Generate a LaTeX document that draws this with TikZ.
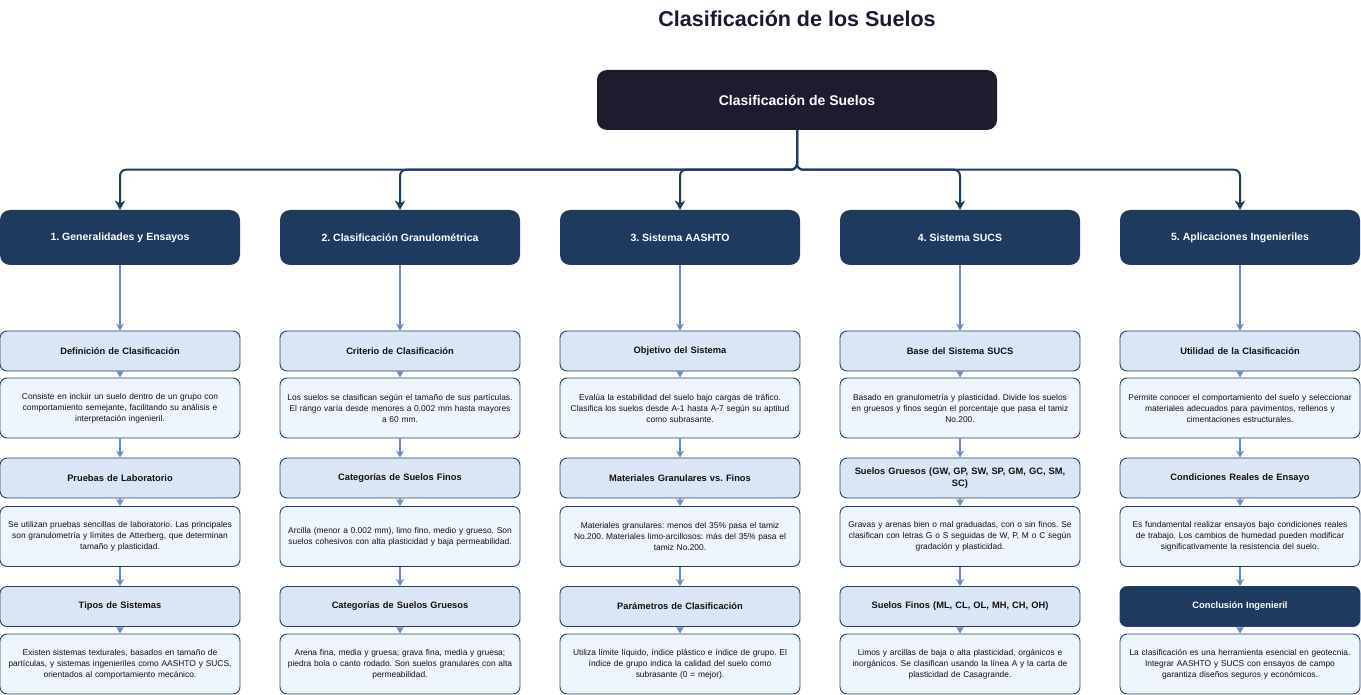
\documentclass[tikz,border=0pt]{standalone}
\usepackage{fontspec}
\setmainfont{Liberation Sans}
\usetikzlibrary{arrows.meta}
\definecolor{titlec}{HTML}{1A1A2E}
\definecolor{rootc}{HTML}{1C1C2E}
\definecolor{secc}{HTML}{1F3A5F}
\definecolor{subc}{HTML}{DAE6F5}
\definecolor{descc}{HTML}{EFF5FD}
\definecolor{bordc}{HTML}{24406A}
\definecolor{arrc}{HTML}{6C8EBF}
\definecolor{txtc}{HTML}{111111}
\frenchspacing
\begin{document}
\frenchspacing
\begin{tikzpicture}[x=1pt,y=-1pt,
  rootbox/.style={rectangle, rounded corners=10pt, fill=rootc, draw=none, minimum width=400pt, minimum height=60pt, text=white, font=\fontsize{14}{17}\selectfont\bfseries, inner sep=0pt},
  secbox/.style={rectangle, rounded corners=10pt, fill=secc, draw=none, minimum width=240pt, minimum height=55pt, text=white, font=\fontsize{10.5}{13}\selectfont\bfseries, inner sep=0pt, align=center},
  subbox/.style={rectangle, rounded corners=7pt, fill=subc, draw=bordc, line width=0.9pt, minimum width=240pt, minimum height=40pt, text width=238pt, inner sep=1pt, align=center, font=\fontsize{9.3}{12}\selectfont\bfseries, text=txtc},
  descbox/.style={subbox, fill=descc, minimum height=60pt, font=\fontsize{8.4}{11}\selectfont},
  conclbox/.style={subbox, fill=secc, text=white},
  busarr/.style={draw=secc, line width=2pt, rounded corners=6pt, -{Stealth[length=9pt,width=10pt,inset=2.5pt]}},
  lightarr/.style={draw=arrc, line width=1.5pt, -{Stealth[length=7pt,width=8pt,inset=2pt]}}
]
\useasboundingbox (0,0) rectangle (1361,695);
\fill[white] (0,0) rectangle (1361,695);

\node[text=titlec, font=\fontsize{21.5}{24}\selectfont\bfseries] (title) at (797,19) {Clasificación de los Suelos};
\node[rootbox] (root) at (797,100) {Clasificación de Suelos};

% section headers
\node[secbox] (s1) at (120,237.5) {1. Generalidades y Ensayos};
\node[secbox] (s2) at (400,237.5) {2. Clasificación Granulométrica};
\node[secbox] (s3) at (680,237.5) {3. Sistema AASHTO};
\node[secbox] (s4) at (960,237.5) {4. Sistema SUCS};
\node[secbox] (s5) at (1240,237.5) {5. Aplicaciones Ingenieriles};

% column 1
\node[subbox] (h11) at (120,351) {Definición de Clasificación};
\node[descbox] (d11) at (120,408) {Consiste en incluir un suelo dentro de un grupo con\\comportamiento semejante, facilitando su análisis e\\interpretación ingenieril.};
\node[subbox] (h12) at (120,478) {Pruebas de Laboratorio};
\node[descbox] (d12) at (120,536.5) {Se utilizan pruebas sencillas de laboratorio. Las principales\\son granulometría y límites de Atterberg, que determinan\\tamaño y plasticidad.};
\node[subbox] (h13) at (120,606.5) {Tipos de Sistemas};
\node[descbox] (d13) at (120,664) {Existen sistemas texturales, basados en tamaño de\\partículas, y sistemas ingenieriles como AASHTO y SUCS,\\orientados al comportamiento mecánico.};

% column 2
\node[subbox] (h21) at (400,351) {Criterio de Clasificación};
\node[descbox] (d21) at (400,408) {Los suelos se clasifican según el tamaño de sus partículas.\\El rango varía desde menores a 0.002 mm hasta mayores\\a 60 mm.};
\node[subbox] (h22) at (400,478) {Categorías de Suelos Finos};
\node[descbox] (d22) at (400,536.5) {Arcilla (menor a 0.002 mm), limo fino, medio y grueso. Son\\suelos cohesivos con alta plasticidad y baja permeabilidad.};
\node[subbox] (h23) at (400,606.5) {Categorías de Suelos Gruesos};
\node[descbox] (d23) at (400,664) {Arena fina, media y gruesa; grava fina, media y gruesa;\\piedra bola o canto rodado. Son suelos granulares con alta\\permeabilidad.};

% column 3
\node[subbox] (h31) at (680,351) {Objetivo del Sistema};
\node[descbox] (d31) at (680,408) {Evalúa la estabilidad del suelo bajo cargas de tráfico.\\Clasifica los suelos desde A-1 hasta A-7 según su aptitud\\como subrasante.};
\node[subbox] (h32) at (680,478) {Materiales Granulares vs. Finos};
\node[descbox] (d32) at (680,536.5) {Materiales granulares: menos del 35\% pasa el tamiz\\No.200. Materiales limo-arcillosos: más del 35\% pasa el\\tamiz No.200.};
\node[subbox] (h33) at (680,606.5) {Parámetros de Clasificación};
\node[descbox] (d33) at (680,664) {Utiliza límite líquido, índice plástico e índice de grupo. El\\índice de grupo indica la calidad del suelo como\\subrasante (0 = mejor).};

% column 4
\node[subbox] (h41) at (960,351) {Base del Sistema SUCS};
\node[descbox] (d41) at (960,408) {Basado en granulometría y plasticidad. Divide los suelos\\en gruesos y finos según el porcentaje que pasa el tamiz\\No.200.};
\node[subbox] (h42) at (960,478) {Suelos Gruesos (GW, GP, SW, SP, GM, GC, SM,\\SC)};
\node[descbox] (d42) at (960,536.5) {Gravas y arenas bien o mal graduadas, con o sin finos. Se\\clasifican con letras G o S seguidas de W, P, M o C según\\gradación y plasticidad.};
\node[subbox] (h43) at (960,606.5) {Suelos Finos (ML, CL, OL, MH, CH, OH)};
\node[descbox] (d43) at (960,664) {Limos y arcillas de baja o alta plasticidad, orgánicos e\\inorgánicos. Se clasifican usando la línea A y la carta de\\plasticidad de Casagrande.};

% column 5
\node[subbox] (h51) at (1240,351) {Utilidad de la Clasificación};
\node[descbox] (d51) at (1240,408) {Permite conocer el comportamiento del suelo y seleccionar\\materiales adecuados para pavimentos, rellenos y\\cimentaciones estructurales.};
\node[subbox] (h52) at (1240,478) {Condiciones Reales de Ensayo};
\node[descbox] (d52) at (1240,536.5) {Es fundamental realizar ensayos bajo condiciones reales\\de trabajo. Los cambios de humedad pueden modificar\\significativamente la resistencia del suelo.};
\node[conclbox] (h53) at (1240,606.5) {Conclusión Ingenieril};
\node[descbox] (d53) at (1240,664) {La clasificación es una herramienta esencial en geotecnia.\\Integrar AASHTO y SUCS con ensayos de campo\\garantiza diseños seguros y económicos.};

% bus connectors
\foreach \s in {s1,s2,s3,s4,s5}{
  \draw[busarr] (root.south) -- ++(0,39.5) -| (\s.north);
}

% column connectors
\foreach \c in {1,2,3,4,5}{
  \draw[lightarr] (s\c.south) -- (h\c1.north);
  \draw[lightarr] (h\c1.south) -- (d\c1.north);
  \draw[lightarr] (d\c1.south) -- (h\c2.north);
  \draw[lightarr] (h\c2.south) -- (d\c2.north);
  \draw[lightarr] (d\c2.south) -- (h\c3.north);
  \draw[lightarr] (h\c3.south) -- (d\c3.north);
}
\end{tikzpicture}
\end{document}
